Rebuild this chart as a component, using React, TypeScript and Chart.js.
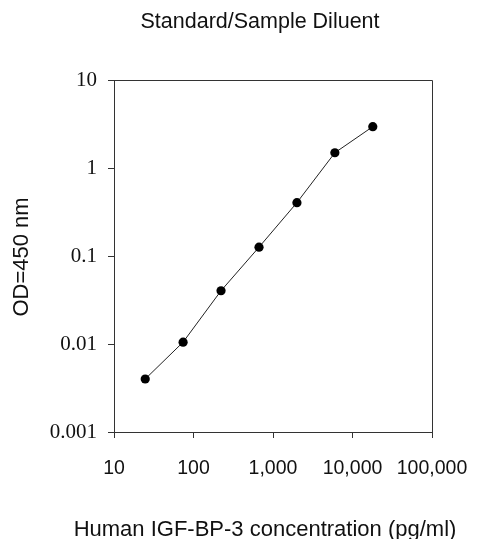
import { useEffect, useRef } from "react";
import { Chart, registerables } from "chart.js";

Chart.register(...registerables);

const CHART_TITLE = "Standard/Sample Diluent";
const X_TITLE = "Human IGF-BP-3 concentration (pg/ml)";
const Y_TITLE = "OD=450 nm";

const CONCENTRATIONS = [24.7, 74, 222, 667, 2000, 6000, 18000];
const OD_VALUES = [0.004, 0.0105, 0.0403, 0.126, 0.404, 1.49, 2.95];

const X_TICKS = [10, 100, 1000, 10000, 100000];
const X_TICK_LABELS = ["10", "100", "1,000", "10,000", "100,000"];
const Y_TICKS = [0.001, 0.01, 0.1, 1, 10];
const Y_TICK_LABELS = ["0.001", "0.01", "0.1", "1", "10"];

const SANS = "'Liberation Sans', Arial, Helvetica, sans-serif";
const SERIF = "'Liberation Serif', 'Times New Roman', serif";
const AXIS_COLOR = "#333333";

const align = (v: number) => Math.round(v) + 0.5;

const textPlugin = {
  id: "frameAndTitles",
  afterDraw(chart: any) {
    const { ctx, chartArea: a } = chart;
    ctx.save();
    // full frame box
    ctx.strokeStyle = AXIS_COLOR;
    ctx.lineWidth = 1;
    ctx.beginPath();
    ctx.moveTo(align(a.left), align(a.top));
    ctx.lineTo(align(a.right), align(a.top));
    ctx.lineTo(align(a.right), align(a.bottom));
    ctx.stroke();

    const cx = (a.left + a.right) / 2;
    ctx.fillStyle = "#111111";
    ctx.textAlign = "center";
    ctx.textBaseline = "alphabetic";
    ctx.font = `21.5px ${SANS}`;
    ctx.fillText(CHART_TITLE, cx - 13, 28);

    ctx.font = `22px ${SANS}`;
    ctx.fillText(X_TITLE, cx - 8, 536);

    ctx.translate(22, (a.top + a.bottom) / 2 + 1);
    ctx.rotate(-Math.PI / 2);
    ctx.textBaseline = "middle";
    ctx.fillText(Y_TITLE, 0, 0);
    ctx.restore();
  },
};

export default function App() {
  const ref = useRef<HTMLCanvasElement | null>(null);

  useEffect(() => {
    if (!ref.current) return;
    const chart = new Chart(ref.current, {
      type: "line",
      data: {
        datasets: [
          {
            data: CONCENTRATIONS.map((x, i) => ({ x, y: OD_VALUES[i] })),
            borderColor: "#222222",
            borderWidth: 1,
            backgroundColor: "#000000",
            pointBackgroundColor: "#000000",
            pointBorderWidth: 0,
            pointRadius: 4.6,
            pointHoverRadius: 4.6,
            tension: 0,
          },
        ],
      },
      plugins: [textPlugin],
      options: {
        animation: false,
        responsive: true,
        maintainAspectRatio: false,
        layout: { padding: { top: 80, right: 59, left: 0, bottom: 0 } },
        plugins: {
          legend: { display: false },
          title: { display: false },
          tooltip: { enabled: false },
        },
        scales: {
          x: {
            type: "logarithmic",
            min: 10,
            max: 100000,
            afterFit: (s: any) => {
              s.height = 107;
            },
            afterBuildTicks: (s: any) => {
              s.ticks = X_TICKS.map((value) => ({ value }));
            },
            ticks: {
              autoSkip: false,
              maxRotation: 0,
              padding: 19,
              color: "#111111",
              font: { family: SANS, size: 19.5 },
              callback: (v: any) => {
                const i = X_TICKS.indexOf(Number(v));
                return i >= 0 ? X_TICK_LABELS[i] : "";
              },
            },
            grid: {
              drawOnChartArea: false,
              drawTicks: true,
              tickLength: 6,
              color: AXIS_COLOR,
            },
            border: { display: true, color: AXIS_COLOR, width: 1 },
          },
          y: {
            type: "logarithmic",
            min: 0.001,
            max: 10,
            afterFit: (s: any) => {
              s.width = 114;
            },
            afterBuildTicks: (s: any) => {
              s.ticks = Y_TICKS.map((value) => ({ value }));
            },
            ticks: {
              autoSkip: false,
              padding: 11,
              color: "#111111",
              font: { family: SERIF, size: 21 },
              callback: (v: any) => {
                const i = Y_TICKS.findIndex((t) => Math.abs(t - Number(v)) / t < 1e-6);
                return i >= 0 ? Y_TICK_LABELS[i] : "";
              },
            },
            grid: {
              drawOnChartArea: false,
              drawTicks: true,
              tickLength: 6,
              color: AXIS_COLOR,
            },
            border: { display: true, color: AXIS_COLOR, width: 1 },
          },
        },
      },
    });
    return () => chart.destroy();
  }, []);

  return (
    <div style={{ position: "absolute", left: 0, top: 0, width: 491, height: 539, background: "#fff" }}>
      <canvas ref={ref} />
    </div>
  );
}
